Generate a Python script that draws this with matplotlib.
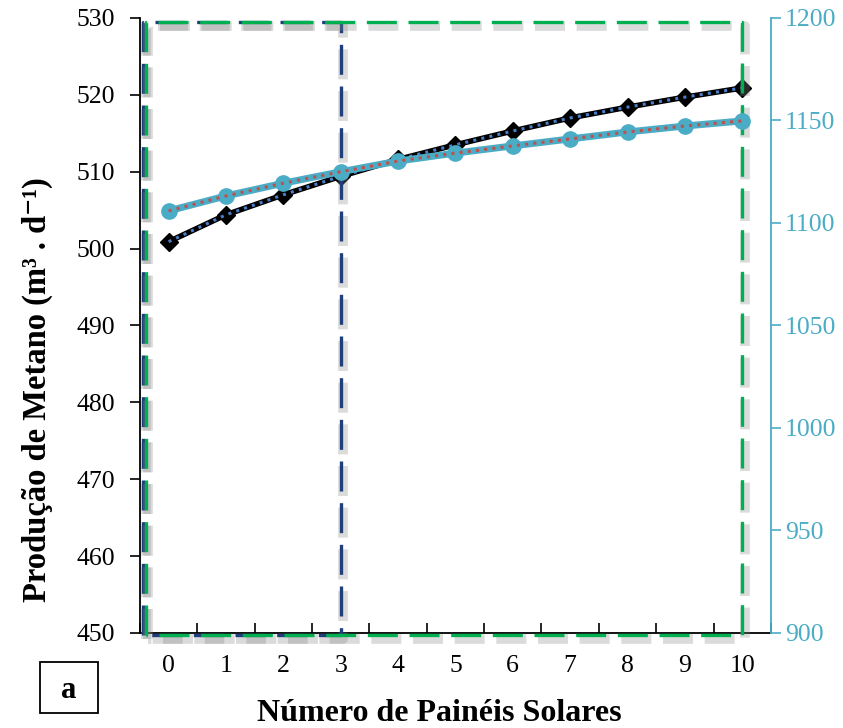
import matplotlib
matplotlib.use("Agg")
import matplotlib.pyplot as plt
import matplotlib.patheffects as pe
from matplotlib.patches import Rectangle
from matplotlib.ticker import MultipleLocator, FixedLocator

plt.rcParams['font.family'] = ['Liberation Serif', 'DejaVu Serif']

# number of solar panels (categories)
paineis = list(range(11))
# methane production, left axis (m3/d)
metano = [500.9, 504.4, 507.0, 509.4, 511.6, 513.5, 515.3, 517.0, 518.4, 519.7, 520.9]
# second series, right axis
serie_dir = [1105.9, 1113.2, 1119.4, 1125.0, 1130.2, 1134.1, 1137.6, 1141.0, 1144.4, 1147.3, 1149.8]

# highlighted regions (category index where each box ends)
caixa_azul_fim = 3
caixa_verde_fim = 10

ciano = '#4BACC6'
fig = plt.figure(figsize=(8.43, 7.28), dpi=100)
ax = fig.add_axes([0.166, 0.1305, 0.7485, 0.8448])
ax2 = ax.twinx()

# main series
ax.plot(paineis, metano, color='black', lw=4, marker='D', ms=9, zorder=3)
ax.plot(paineis, metano, color='#4A7EC8', lw=2.2, ls=(0, (1, 1.7)), zorder=4)
ax2.plot(paineis, serie_dir, color=ciano, lw=5, marker='o', ms=11, zorder=3)
ax2.plot(paineis, serie_dir, color='#C0504D', lw=2.2, ls=(0, (1, 1.7)), zorder=4)

# dashed highlight boxes with shadow
sombra = [pe.SimpleLineShadow(offset=(2, -3), shadow_color='#888888', alpha=0.3, linewidth=7), pe.Normal()]
ax.plot([-0.45, -0.45, caixa_azul_fim, caixa_azul_fim, -0.45],
        [449.8, 529.5, 529.5, 449.8, 449.8],
        color='#1F3F7A', lw=2.4, ls=(0, (9, 3.5)), clip_on=False, zorder=5, path_effects=sombra)
ax.plot([-0.4, -0.4, caixa_verde_fim, caixa_verde_fim, -0.4],
        [449.7, 529.5, 529.5, 449.7, 449.7],
        color='#00B050', lw=2.4, ls=(0, (9, 3.5)), clip_on=False, zorder=5, path_effects=sombra)

ax.set_xlim(-0.5, 10.5)
ax.set_ylim(450, 530)
ax2.set_ylim(900, 1200)

# category-style x axis: ticks between categories, labels at centres
ax.xaxis.set_major_locator(FixedLocator([i - 0.5 for i in paineis] + [10.5]))
ax.xaxis.set_minor_locator(FixedLocator(paineis))
ax.xaxis.set_major_formatter(plt.NullFormatter())
ax.set_xticklabels([str(p) for p in paineis], minor=True)
ax.tick_params(axis='x', which='major', direction='in', length=7, width=1.2)
ax.tick_params(axis='x', which='minor', length=0, pad=16, labelsize=18.5)

ax.yaxis.set_major_locator(MultipleLocator(10))
ax.tick_params(axis='y', direction='out', length=7, width=1.2, labelsize=18.5, pad=11)
ax2.yaxis.set_major_locator(MultipleLocator(50))
ax2.tick_params(axis='y', direction='out', length=7, width=1.2, labelsize=18.5,
                colors=ciano, pad=3)

ax.spines['top'].set_visible(False)
ax2.spines['top'].set_visible(False)
ax.spines['right'].set_visible(False)
ax2.spines['left'].set_visible(False)
ax2.spines['bottom'].set_visible(False)
ax2.spines['right'].set_color(ciano)
ax2.spines['right'].set_linewidth(1.3)
ax.spines['left'].set_linewidth(1.3)
ax.spines['bottom'].set_linewidth(1.3)

ax.set_ylabel('Produção de Metano (m³ . d⁻¹)',
              fontsize=23.5, fontweight='bold', labelpad=17)
ax.yaxis.label.set_y(0.395)
ax.set_xlabel('Número de Painéis Solares', fontsize=23, fontweight='bold', labelpad=16)
ax.xaxis.label.set_x(0.474)

# panel label box
fig.patches.append(Rectangle((40 / 843, 1 - 713 / 728), 58 / 843, 51 / 728,
                             transform=fig.transFigure, fc='white', ec='black', lw=1.3))
fig.text(69 / 843, 1 - 690 / 728, 'a', fontsize=22, fontweight='bold', ha='center', va='center')

fig.savefig('out.png', dpi=100)
